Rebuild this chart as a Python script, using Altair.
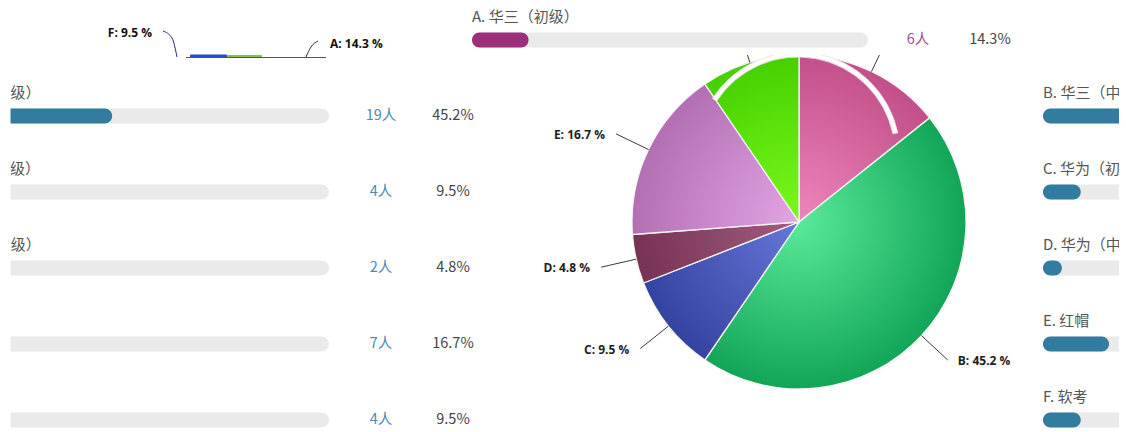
import math
import altair as alt
import pandas as pd

# ---------------- data ----------------
codes = ["A", "B", "C", "D", "E", "F"]
names = ["华三（初级）", "华三（中级）", "华为（初级）", "华为（中级）", "红帽", "软考"]
counts = [6, 19, 4, 2, 7, 4]
slice_light = ["#ee86bb", "#5ae99a", "#6777d8", "#a25d7e", "#e2a4e4", "#7afa1c"]
slice_dark = ["#c24f89", "#12a558", "#3543a0", "#763354", "#b270b3", "#46d000"]

total = sum(counts)
W, H = 1126, 432
CX, CY, R = 799, 222, 167
R_LABEL = 203
TRACK_W = 396

X_SCALE = alt.Scale(domain=[0, W], range=[0, W], nice=False, zero=False)
Y_SCALE = alt.Scale(domain=[0, H], range=[0, H], nice=False, zero=False)


def xq(f):
    return alt.X(f + ":Q", scale=X_SCALE, axis=None)


def yq(f):
    return alt.Y(f + ":Q", scale=Y_SCALE, axis=None)


def white_rect(x, x2, y, y2):
    return alt.Chart(pd.DataFrame({"x": [x], "x2": [x2], "y": [y], "y2": [y2]})).mark_rect(
        fill="white"
    ).encode(x=xq("x"), x2="x2:Q", y=yq("y"), y2="y2:Q")


# ---------------- pie ----------------
def arc_bbox(t1, t2, r, cx, cy):
    pts = [(cx, cy)]
    for t in (t1, t2):
        pts.append((cx + r * math.sin(t), cy - r * math.cos(t)))
    for k in range(5):
        a = k * math.pi / 2
        if t1 <= a <= t2:
            pts.append((cx + r * math.sin(a), cy - r * math.cos(a)))
    xs = [p[0] for p in pts]
    ys = [p[1] for p in pts]
    return min(xs), min(ys), max(xs) - min(xs), max(ys) - min(ys)


layers = []
cum = 0.0
mids = []
for i, c in enumerate(counts):
    t1 = cum / total * 2 * math.pi
    cum += c
    t2 = cum / total * 2 * math.pi
    mids.append((t1 + t2) / 2)
    bx, by, bw, bh = arc_bbox(t1, t2, R, CX, CY)
    S = max(bw, bh)
    u = (CX - bx - bw / 2) / S + 0.5
    v = (CY - by - bh / 2) / S + 0.5
    grad = alt.RadialGradient(
        gradient="radial",
        x1=u, y1=v, r1=0, x2=u, y2=v, r2=R / S,
        stops=[alt.GradientStop(offset=0, color=slice_light[i]),
               alt.GradientStop(offset=1, color=slice_dark[i])],
    )
    df = pd.DataFrame({"code": [codes[i]], "t1": [t1], "t2": [t2]})
    layers.append(
        alt.Chart(df).mark_arc(radius=R, fill=grad, stroke="#f3f3f3", strokeWidth=1.3).encode(
            theta=alt.Theta("t1:Q", scale=None),
            theta2="t2:Q",
            x=alt.value(CX),
            y=alt.value(CY),
        )
    )

# ghost white band (rendering artefact in the A / F slices)
ghost = pd.DataFrame({"t1": [-math.radians(57)], "t2": [math.radians(78)]})
layers.append(
    alt.Chart(ghost).mark_arc(radius=102, radius2=97, fill="white", stroke="#f7dbe9",
                              strokeWidth=0.8).encode(
        theta=alt.Theta("t1:Q", scale=None), theta2="t2:Q",
        x=alt.value(798), y=alt.value(154),
    )
)

# leader lines + labels
lab = pd.DataFrame({
    "code": codes,
    "pct": [c / total * 100 for c in counts],
    "mid": mids,
})
lab["x1"] = CX + R * lab["mid"].apply(math.sin)
lab["y1"] = CY - R * lab["mid"].apply(math.cos)
lab["x2"] = CX + R_LABEL * lab["mid"].apply(math.sin)
lab["y2"] = CY - R_LABEL * lab["mid"].apply(math.cos)
lab["right"] = lab["mid"] < math.pi
lab["tx"] = lab["x2"] + lab["right"].map({True: 10, False: -11})
lab["ty"] = lab["y2"] + 1
lab["text"] = lab.apply(lambda r: f"{r['code']}: {r['pct']:.1f} %", axis=1)
# labels of A and F fall under the list row at the top and are not visible
lab["shown"] = ~lab["code"].isin(["A", "F"])

layers.append(
    alt.Chart(lab).mark_rule(color="#3a3a3a", strokeWidth=1).encode(
        x=xq("x1"), y=yq("y1"), x2="x2:Q", y2="y2:Q"
    )
)
for side, align in ((True, "left"), (False, "right")):
    layers.append(
        alt.Chart(lab[(lab["right"] == side) & lab["shown"]]).mark_text(
            align=align, baseline="middle", font="Open Sans", fontWeight="bold",
            fontSize=12, color="#1e1e1e"
        ).encode(x=xq("tx"), y=yq("ty"), text="text:N")
    )

# ---------------- top-left squashed fragment ----------------
frag_rule = pd.DataFrame({"x": [186], "x2": [326], "y": [57.5]})
layers.append(
    alt.Chart(frag_rule).mark_rule(color="#555555", strokeWidth=1.2).encode(
        x=xq("x"), x2="x2:Q", y=yq("y")
    )
)
frag_bump = pd.DataFrame({
    "x": [190, 227], "x2": [227, 262], "y": [54.5, 55.0], "y2": [57, 57],
    "col": ["#1f4fcc", "#86c24a"],
})
layers.append(
    alt.Chart(frag_bump).mark_bar(cornerRadiusTopLeft=3, cornerRadiusTopRight=3).encode(
        x=xq("x"), x2="x2:Q", y=yq("y"), y2="y2:Q",
        color=alt.Color("col:N", scale=None),
    )
)
frag_lines = pd.DataFrame({
    "g": ["F", "F", "F", "A", "A", "A"],
    "o": [0, 1, 2, 0, 1, 2],
    "x": [163, 172, 177, 318, 311, 306],
    "y": [31, 38, 57, 41, 47, 57],
})
layers.append(
    alt.Chart(frag_lines).mark_line(color="#2a2a70", strokeWidth=1, interpolate="monotone").encode(
        x=xq("x"), y=yq("y"), detail="g:N", order="o:Q"
    )
)
frag_lab = lab.set_index("code").loc[["F", "A"]].reset_index()
frag_lab["fx"] = [152, 330]
frag_lab["fy"] = [33, 44]
frag_lab["al"] = ["right", "left"]
for _, row in frag_lab.iterrows():
    layers.append(
        alt.Chart(pd.DataFrame([row])).mark_text(
            align=row["al"], baseline="middle", font="Open Sans", fontWeight="bold",
            fontSize=12, color="#111111"
        ).encode(x=xq("fx"), y=yq("fy"), text="text:N")
    )

# ---------------- white background behind the top list row ----------------
layers.append(white_rect(455, 1035, 0, 55))

# ---------------- list rows (three scrolled panels) ----------------
rows = []
for k, (code, name, c) in enumerate(zip(codes, names, counts)):
    panels = [471] if k == 0 else [-68, 1042]
    for x0 in panels:
        top = k == 0
        rows.append({
            "label": f"{code}. {name}",
            "count": f"{c}人",
            "pct": f"{c / total * 100:.1f}%",
            "lx": x0 + 1,
            "ly": 17 + 76 * k,
            "bx": x0 + 1,
            "bx2": x0 + 1 + TRACK_W,
            "fx2": x0 + 1 + TRACK_W * c / total,
            "by": 32.5 + 76 * k,
            "by2": 47.5 + 76 * k,
            "cy": 40 + 76 * k,
            "cx": x0 + 449 if not top else x0 + 447,
            "px": x0 + 521 if not top else x0 + 519,
            "fill": "#9c2f7b" if top else "#317c9f",
            "ccol": "#9b4f8b" if top else "#4a8bb4",
        })
lst = pd.DataFrame(rows)

layers.append(
    alt.Chart(lst).mark_bar(cornerRadius=7.5, color="#eaeaea").encode(
        x=xq("bx"), x2="bx2:Q", y=yq("by"), y2="by2:Q"
    )
)
layers.append(
    alt.Chart(lst).mark_bar(cornerRadius=7.5).encode(
        x=xq("bx"), x2="fx2:Q", y=yq("by"), y2="by2:Q",
        color=alt.Color("fill:N", scale=None),
    )
)
layers.append(
    alt.Chart(lst).mark_text(align="left", baseline="middle", font="Noto Sans CJK SC",
                             fontSize=15, color="#555555").encode(
        x=xq("lx"), y=yq("ly"), text="label:N"
    )
)
layers.append(
    alt.Chart(lst).mark_text(align="center", baseline="middle", font="Noto Sans CJK SC",
                             fontSize=14.5).encode(
        x=xq("cx"), y=yq("cy"), text="count:N", color=alt.Color("ccol:N", scale=None)
    )
)
layers.append(
    alt.Chart(lst).mark_text(align="center", baseline="middle", font="Noto Sans CJK SC",
                             fontSize=14.5, color="#444444").encode(
        x=xq("px"), y=yq("cy"), text="pct:N"
    )
)

# clipping edges of the side panels (screenshot is cropped there)
layers.append(white_rect(0, 10.5, 60, H))
layers.append(white_rect(1119, W, 60, H))

chart = alt.layer(*layers).properties(
    width=W, height=H, padding=0, autosize="none", background="white"
).configure_view(stroke=None)

chart.save("out.html", embed_options={"renderer": "svg", "actions": False})
